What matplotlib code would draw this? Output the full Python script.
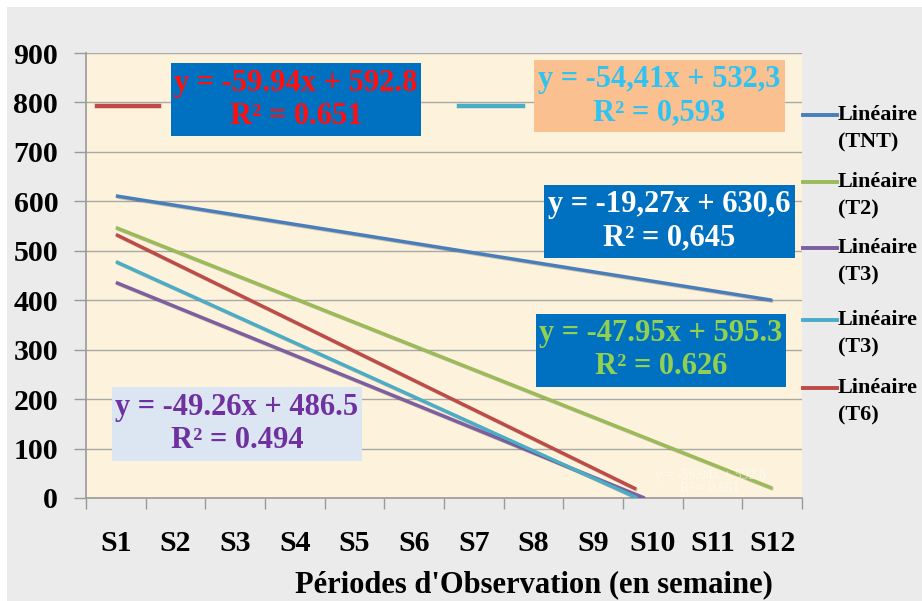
import matplotlib
matplotlib.use("Agg")
import matplotlib.pyplot as plt
from matplotlib.patches import Rectangle
from matplotlib.lines import Line2D
import matplotlib.patheffects as pe

# ---- data ----
categories = ['S1', 'S2', 'S3', 'S4', 'S5', 'S6', 'S7', 'S8', 'S9', 'S10', 'S11', 'S12']
series_names = ['Linéaire\n(TNT)', 'Linéaire\n(T2)', 'Linéaire\n(T3)', 'Linéaire\n(T3)', 'Linéaire\n(T6)']
x_start = [1, 1, 1, 1, 1]
x_end = [12, 12, 9.86, 9.74, 9.72]
y_start = [611, 547, 436, 478, 533]
y_end = [400, 20, 0, 0, 18]
series_colors = ['#4A7EBB', '#9BBB59', '#7D5FA0', '#4BACC6', '#BE4B48']

equations = ['y = -59.94x + 592.8\nR² = 0.651',
             'y = -54,41x + 532,3\nR² = 0,593',
             'y = -19,27x + 630,6\nR² = 0,645',
             'y = -47.95x + 595.3\nR² = 0.626',
             'y = -49.26x + 486.5\nR² = 0.494']
yticks = [0, 100, 200, 300, 400, 500, 600, 700, 800, 900]
xlabel = "Périodes d'Observation (en semaine)"

W, H = 922, 601
SERIF = ['Liberation Serif', 'DejaVu Serif']

fig = plt.figure(figsize=(W / 100, H / 100), dpi=100)
fig.patch.set_facecolor('white')

def fx(px):
    return px / W

def fy(py):
    return 1 - py / H

# grey background
fig.add_artist(Rectangle((fx(7), 0), 1 - fx(7), fy(7), transform=fig.transFigure,
                         facecolor='#EBEBEB', edgecolor='none', zorder=0))

ax = fig.add_axes([fx(86), fy(498), fx(802) - fx(86), fy(53) - fy(498)])
ax.set_facecolor('#FDF2DC')
ax.set_xlim(0.5, 12.5)
ax.set_ylim(0, 900)

ax.set_yticks(yticks)
ax.set_yticklabels([str(v) for v in yticks], fontsize=21.5, fontweight='bold', family=SERIF)
ax.tick_params(axis='y', length=9, width=1, color='#9A9A9A', pad=11, direction='out')
ax.grid(axis='y', color='#A8A8A8', linewidth=1)
ax.set_axisbelow(True)

ax.set_xticks([i + 0.5 for i in range(13)])
ax.set_xticklabels([''] * 13)
ax.tick_params(axis='x', which='major', length=8, width=1, color='#9A9A9A', direction='out')
ax.set_xticks(list(range(1, 13)), minor=True)
ax.set_xticklabels(categories, minor=True, fontsize=21.5, fontweight='bold', family=SERIF)
ax.tick_params(axis='x', which='minor', length=0, pad=23)

for side in ['top', 'right']:
    ax.spines[side].set_visible(False)
for side in ['left', 'bottom']:
    ax.spines[side].set_color('#9A9A9A')
    ax.spines[side].set_linewidth(1.2)

shadow = [pe.SimpleLineShadow(offset=(0.8, -0.8), alpha=0.2), pe.Normal()]
for xs, xe, ys, ye, c in zip(x_start, x_end, y_start, y_end, series_colors):
    ax.plot([xs, xe], [ys, ye], color=c, linewidth=2.5, solid_capstyle='butt',
            path_effects=shadow, zorder=3)

# faint ghost label
g1, g2 = equations[0].split('\n')
fig.text(fx(710), fy(475), g1, fontsize=10, color='white', alpha=0.55,
         ha='center', va='center', family=SERIF, zorder=2)
fig.text(fx(710), fy(489), g2, fontsize=10, color='white', alpha=0.55,
         ha='center', va='center', family=SERIF, zorder=2)

# equation boxes: (x0, y0, x1, y1) in pixels, box colour, text colour
boxes = [
    (171, 63, 421, 136, '#0070C0', '#FF1010'),
    (534, 60, 785, 132, '#FAC090', '#2FC3F2'),
    (544, 185, 795, 258, '#0070C0', '#FFFFFF'),
    (536, 314, 786, 387, '#0070C0', '#92D050'),
    (112, 387, 362, 461, '#DCE6F2', '#7030A0'),
]
for (x0, y0, x1, y1, bc, tc), eq in zip(boxes, equations):
    fig.add_artist(Rectangle((fx(x0), fy(y1)), fx(x1 - x0), (y1 - y0) / H,
                             transform=fig.transFigure, facecolor=bc, edgecolor='none', zorder=5))
    l1, l2 = eq.split('\n')
    cx = (x0 + x1) / 2
    cy = (y0 + y1) / 2
    fig.text(fx(cx), fy(cy - 16.5), l1, fontsize=22, fontweight='bold', color=tc,
             ha='center', va='center', family=SERIF, zorder=6)
    fig.text(fx(cx), fy(cy + 16.5), l2, fontsize=22, fontweight='bold', color=tc,
             ha='center', va='center', family=SERIF, zorder=6)

# short line markers beside top boxes
fig.add_artist(Line2D([fx(97), fx(159)], [fy(106), fy(106)], transform=fig.transFigure,
                      color='#BE4B48', linewidth=3.2, zorder=4))
fig.add_artist(Line2D([fx(459), fx(523)], [fy(106), fy(106)], transform=fig.transFigure,
                      color='#4BACC6', linewidth=3.2, zorder=4))

# legend
leg_y = [115, 182, 248, 320, 388]
for yy, name, c in zip(leg_y, series_names, series_colors):
    fig.add_artist(Line2D([fx(803), fx(837)], [fy(yy), fy(yy)], transform=fig.transFigure,
                          color=c, linewidth=2.8, zorder=4))
    l1, l2 = name.split('\n')
    fig.text(fx(838), fy(yy), l1, fontsize=16, fontweight='bold', ha='left', va='center',
             family=SERIF, zorder=6)
    fig.text(fx(838), fy(yy + 27), l2, fontsize=16, fontweight='bold', ha='left', va='center',
             family=SERIF, zorder=6)

fig.text(fx(534), fy(585), xlabel, fontsize=22, fontweight='bold', ha='center', va='center',
         family=SERIF)

fig.savefig('out.png', dpi=100)
